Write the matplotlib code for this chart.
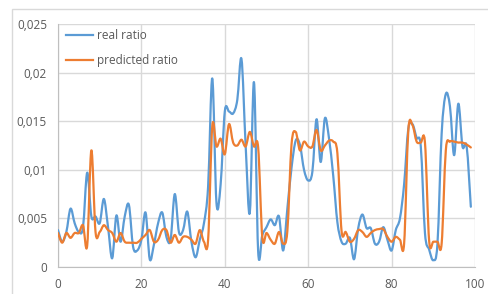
import matplotlib
matplotlib.use('Agg')
import matplotlib.pyplot as plt
from matplotlib.path import Path
from matplotlib.patches import PathPatch, Rectangle
from matplotlib.lines import Line2D
from matplotlib.ticker import FuncFormatter, MultipleLocator

# values (ratio * 1000)
x = list(range(100))
real_ratio = [
    3.8, 2.6, 3.6, 6.0, 4.5, 3.6, 4.1, 9.7, 5.2, 5.2,
    4.5, 7.0, 4.1, 0.9, 5.3, 2.6, 5.2, 6.4, 2.1, 1.7,
    2.8, 5.6, 0.8, 2.3, 4.5, 5.6, 3.1, 2.8, 7.5, 3.6,
    3.8, 5.7, 2.6, 1.0, 2.8, 4.5, 8.3, 19.4, 6.6, 8.5,
    16.0, 16.0, 15.8, 17.2, 21.4, 12.5, 5.6, 19.0, 1.6, 3.3,
    4.1, 4.9, 4.3, 5.2, 1.7, 6.0, 10.2, 13.0, 12.6, 10.0,
    8.9, 9.8, 15.2, 10.8, 15.3, 13.2, 9.4, 4.6, 2.6, 2.4,
    3.0, 0.8, 4.0, 5.4, 4.0, 4.0, 2.4, 2.6, 4.1, 2.8,
    1.7, 3.8, 5.0, 8.5, 14.2, 14.7, 13.3, 12.4, 3.5, 1.8,
    0.7, 2.4, 13.7, 17.8, 16.5, 11.5, 16.8, 12.4, 12.4, 6.2,
]
predicted_ratio = [
    3.5, 2.5, 3.5, 3.0, 3.5, 3.5, 4.3, 2.2, 12.0, 3.6,
    3.6, 4.3, 3.8, 3.5, 2.6, 3.5, 2.6, 2.5, 2.5, 2.5,
    2.9, 3.3, 3.8, 2.6, 2.8, 3.8, 3.8, 2.5, 3.3, 2.5,
    3.1, 3.1, 2.8, 2.4, 3.8, 2.6, 2.8, 14.5, 12.4, 13.2,
    11.6, 14.7, 12.8, 12.5, 13.1, 12.4, 13.9, 12.4, 12.3, 3.0,
    3.5, 2.8, 2.4, 3.6, 2.4, 3.7, 12.6, 13.9, 12.0, 12.9,
    12.4, 12.4, 14.1, 12.0, 12.5, 13.0, 12.9, 11.7, 3.7, 3.6,
    2.6, 2.9, 3.8, 3.6, 3.1, 3.5, 3.8, 3.9, 3.9, 3.1,
    2.6, 3.1, 2.8, 2.4, 14.0, 14.6, 12.9, 12.8, 12.8, 2.7,
    2.6, 2.6, 2.4, 12.0, 12.9, 12.9, 12.8, 12.8, 12.6, 12.3,
]
real_ratio = [v / 1000 for v in real_ratio]
predicted_ratio = [v / 1000 for v in predicted_ratio]

BLUE = '#5b9bd5'
ORANGE = '#ed7d31'
GRID = '#d9d9d9'
TXT = '#595959'

plt.rcParams['font.family'] = ['Open Sans', 'DejaVu Sans']


def smooth_path(xs, ys):
    # excel style smoothed line: catmull-rom turned into bezier segments
    verts = [(xs[0], ys[0])]
    codes = [Path.MOVETO]
    n = len(xs)
    for i in range(n - 1):
        x0, y0 = (xs[i - 1], ys[i - 1]) if i > 0 else (xs[i], ys[i])
        x1, y1 = xs[i], ys[i]
        x2, y2 = xs[i + 1], ys[i + 1]
        x3, y3 = (xs[i + 2], ys[i + 2]) if i + 2 < n else (x2, y2)
        c1 = (x1 + (x2 - x0) / 6, y1 + (y2 - y0) / 6)
        c2 = (x2 - (x3 - x1) / 6, y2 - (y3 - y1) / 6)
        verts += [c1, c2, (x2, y2)]
        codes += [Path.CURVE4] * 3
    return Path(verts, codes)


fig = plt.figure(figsize=(4.89, 2.94), dpi=100)
ax = fig.add_axes([58 / 489, 27 / 294, 417 / 489, 243 / 294])

# chart area border (cropped by the image edge)
fig.patches.append(Rectangle((12 / 489, -0.1), 1.0, 285 / 294 + 0.1,
                             transform=fig.transFigure, fill=False,
                             edgecolor=GRID, linewidth=1.0))

for ys, col in [(real_ratio, BLUE), (predicted_ratio, ORANGE)]:
    ax.add_patch(PathPatch(smooth_path(x, ys), facecolor='none', edgecolor=col,
                           linewidth=1.6, capstyle='round', joinstyle='round',
                           zorder=3))

ax.set_xlim(0, 100)
ax.set_ylim(0, 0.025)
ax.xaxis.set_major_locator(MultipleLocator(20))
ax.yaxis.set_major_locator(MultipleLocator(0.005))


def fmt(v, pos):
    if abs(v) < 1e-12:
        return '0'
    return ('%g' % round(v, 6)).replace('.', ',')


ax.yaxis.set_major_formatter(FuncFormatter(fmt))
ax.xaxis.set_major_formatter(FuncFormatter(fmt))
ax.grid(True, color=GRID, linewidth=1.0)
ax.set_axisbelow(True)
for s in ['top', 'right']:
    ax.spines[s].set_visible(False)
for s in ['left', 'bottom']:
    ax.spines[s].set_color('#bfbfbf')
ax.tick_params(length=0, labelsize=8.5, labelcolor=TXT)
ax.tick_params(axis='y', pad=8)
ax.tick_params(axis='x', pad=8)

handles = [Line2D([], [], color=BLUE, linewidth=1.6),
           Line2D([], [], color=ORANGE, linewidth=1.6)]
ax.legend(handles, ['real ratio', 'predicted ratio'], loc='upper left',
          bbox_to_anchor=(8 / 417, 1 - 5 / 243), frameon=False, borderpad=0,
          borderaxespad=0, handlelength=2.3, handletextpad=0.3,
          labelspacing=1.05, fontsize=8.5, labelcolor=TXT)

fig.savefig('out.png', dpi=100)
